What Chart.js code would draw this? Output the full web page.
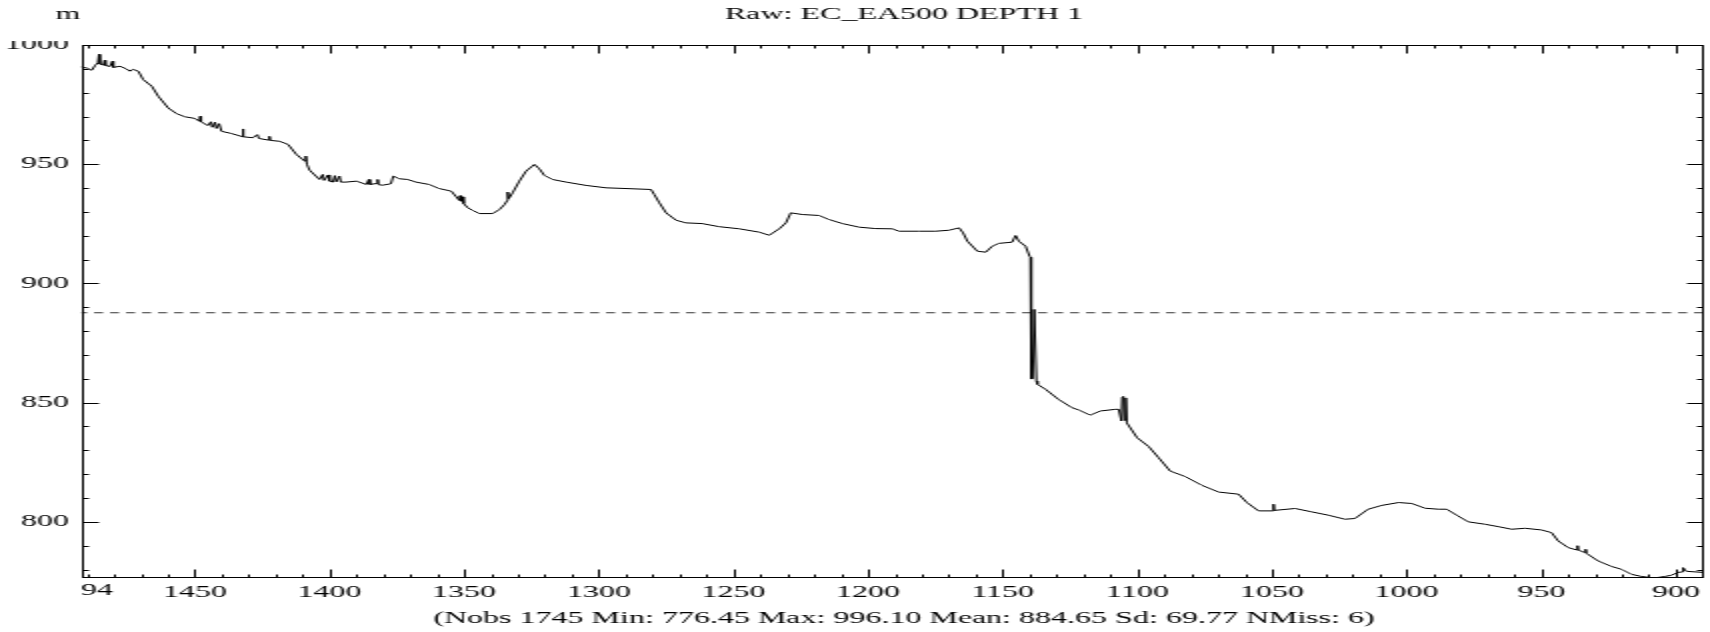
<!DOCTYPE html>
<html>
<head>
<meta charset="utf-8">
<script src="https://cdn.jsdelivr.net/npm/chart.js@4"></script>
<style>
  html, body { margin: 0; padding: 0; background: #fff; overflow: hidden; }
  /* the original plot is drawn narrow and stretched 2x sideways */
  #wrap { width: 855px; height: 632px; transform: scaleX(2); transform-origin: 0 0; }
</style>
</head>
<body>
<div id="wrap"><canvas id="chart"></canvas></div>
<script>
const titleText = 'Raw: EC_EA500 DEPTH 1';
const unitText = 'm';
const startLabel = '94';
const statsText = '(Nobs 1745 Min: 776.45 Max: 996.10 Mean: 884.65 Sd: 69.77 NMiss: 6)';

const xMin = 889.9;
const xMax = 1492.3;
const yMin = 776.45;
const yMax = 1000;
const xTickValues = [1450, 1400, 1350, 1300, 1250, 1200, 1150, 1100, 1050, 1000, 950, 900];
const yTickValues = [800, 850, 900, 950, 1000];
const minorStep = 10;
const refLineValue = 887.7;

// readings along the track (x) and depth values (y)
const xPos = [
  1492.3,1490.0,1488.3,1487.0,1486.0,1485.6,1485.3,1484.0,1483.5,1483.2,
  1481.5,1480.6,1480.3,1477.8,1475.5,1474.1,1473.0,1471.0,1469.2,1466.0,
  1463.6,1459.9,1456.8,1453.7,1450.0,1448.3,1448.0,1447.7,1445.2,1444.0,
  1443.5,1442.5,1442.0,1441.0,1440.1,1436.5,1432.5,1432.2,1431.9,1428.5,
  1426.8,1426.2,1422.6,1422.3,1422.0,1418.5,1415.4,1412.3,1409.2,1408.8,
  1408.4,1407.4,1403.7,1402.5,1402.0,1400.5,1400.0,1398.8,1398.0,1397.5,
  1396.3,1395.8,1393.9,1390.0,1386.3,1385.4,1385.0,1382.6,1382.1,1381.8,
  1380.3,1377.2,1376.3,1374.1,1371.0,1367.9,1363.0,1359.3,1354.8,1352.9,
  1351.8,1351.5,1351.1,1350.6,1350.2,1348.6,1346.8,1344.3,1339.4,1336.9,
  1335.0,1334.0,1333.8,1333.4,1332.0,1329.5,1327.0,1323.9,1322.1,1320.2,
  1317.2,1312.1,1304.7,1297.3,1289.9,1280.6,1279.4,1277.5,1275.0,1271.3,
  1267.7,1261.6,1255.3,1247.8,1240.4,1236.7,1233.0,1230.5,1228.7,1224.4,
  1218.2,1214.5,1209.5,1203.3,1197.2,1191.0,1188.5,1181.1,1174.9,1170.0,
  1166.2,1164.7,1163.1,1159.4,1156.3,1153.9,1151.4,1146.5,1145.2,1144.0,
  1141.5,1140.0,1139.7,1139.4,1138.9,1138.3,1137.5,1137.1,1134.1,1129.3,
  1124.3,1121.7,1118.2,1117.4,1113.7,1108.1,1106.9,1105.9,1105.6,1105.2,
  1104.8,1104.3,1103.9,1100.1,1095.8,1092.1,1087.8,1082.2,1076.0,1069.8,
  1062.4,1059.3,1055.0,1049.6,1049.4,1049.2,1041.4,1035.3,1029.1,1022.9,
  1019.2,1014.3,1009.2,1003.0,998.1,993.1,988.2,985.1,981.4,977.1,
  970.9,966.0,961.0,956.0,949.9,946.2,943.7,940.0,936.8,936.5,
  936.3,933.8,933.5,933.2,928.9,923.9,920.2,916.5,912.8,908.0,
  904.1,901.7,899.2,897.5,897.3,896.5,895.5,889.9
];
const depth = [
  990.8,990.3,989.4,991.5,992.5,996.1,992.0,991.6,993.6,991.4,
  991.0,993.2,990.6,991.1,990.0,989.0,989.8,989.0,985.5,982.7,
  978.5,973.6,971.2,969.9,969.2,968.0,970.1,967.8,966.2,967.8,
  965.5,967.6,965.0,967.0,963.8,962.9,961.6,964.8,961.5,961.1,
  962.4,960.8,960.1,961.7,960.0,959.6,958.3,954.1,951.3,953.4,
  950.0,947.5,943.6,945.7,943.2,945.5,942.9,942.5,945.2,942.6,
  945.0,942.5,942.5,942.9,941.5,943.6,941.5,941.9,943.6,941.4,
  941.2,941.8,945.0,943.9,943.6,942.5,941.5,939.8,938.7,936.3,
  934.8,936.8,934.5,936.3,933.5,931.7,930.6,929.3,929.3,931.0,
  933.1,934.8,938.3,935.6,938.0,942.9,947.1,949.9,948.1,945.3,
  943.6,942.5,941.1,940.1,939.8,939.4,937.3,933.8,929.6,926.5,
  925.4,925.1,923.8,922.9,921.5,920.2,922.9,925.4,929.6,928.9,
  928.5,926.8,925.1,923.6,923.0,922.9,921.9,921.9,921.9,922.3,
  923.3,921.2,917.7,913.5,913.1,915.6,916.8,917.3,920.1,917.7,
  915.6,911.4,911.0,860.0,860.0,889.1,859.1,857.7,855.6,851.4,
  847.9,846.9,845.1,844.8,846.5,847.2,847.2,842.3,852.3,852.6,
  842.6,852.0,841.5,835.3,831.6,826.9,821.3,819.0,815.3,812.5,
  811.6,808.1,804.6,804.6,807.4,804.8,805.6,804.2,802.8,801.1,
  801.4,805.3,806.9,808.1,807.7,805.7,805.3,805.3,802.8,800.0,
  799.0,798.0,796.9,797.3,796.6,795.5,792.0,789.2,788.2,790.0,
  788.2,787.1,788.5,786.8,783.6,781.3,780.1,778.0,777.1,776.45,
  777.1,777.6,778.8,779.0,780.8,779.5,779.2,778.8
];

const serif = '"Liberation Serif", "DejaVu Serif", serif';

// box round the plot, inward ticks on all four sides, plus the texts
const framePlugin = {
  id: 'framePlugin',
  afterDraw(chart) {
    const { ctx, chartArea: a, scales: { x, y } } = chart;
    const L = Math.round(a.left) + 0.5, R = Math.round(a.right) - 0.5;
    const T = Math.round(a.top) + 0.5, B = Math.round(a.bottom) - 0.5;
    ctx.save();
    ctx.strokeStyle = '#000';
    ctx.lineWidth = 1;
    ctx.strokeRect(L, T, R - L, B - T);
    ctx.beginPath();
    for (let v = Math.ceil(xMin / minorStep) * minorStep; v <= xMax; v += minorStep) {
      const px = Math.round(x.getPixelForValue(v)) + 0.5;
      const len = v % 50 === 0 ? 8 : 3;
      ctx.moveTo(px, B); ctx.lineTo(px, B - len);
      ctx.moveTo(px, T); ctx.lineTo(px, T + len);
    }
    for (let v = Math.ceil(yMin / minorStep) * minorStep; v <= yMax; v += minorStep) {
      const py = Math.round(y.getPixelForValue(v)) + 0.5;
      const len = v % 50 === 0 ? 8 : 3;
      ctx.moveTo(L, py); ctx.lineTo(L + len, py);
      ctx.moveTo(R, py); ctx.lineTo(R - len, py);
    }
    ctx.stroke();

    // the top label is cut off in the original
    ctx.fillStyle = '#fff';
    ctx.fillRect(0, 28, a.left - 1, 13);

    ctx.fillStyle = '#000';
    ctx.font = '16px ' + serif;
    ctx.textBaseline = 'alphabetic';
    ctx.textAlign = 'center';
    ctx.fillText(unitText, 34, 19);
    ctx.fillText(titleText, 452, 19);
    ctx.fillText(statsText, 452, 623);
    ctx.textAlign = 'left';
    ctx.textBaseline = 'top';
    ctx.fillText(startLabel, a.left, a.bottom + 5);
    ctx.restore();
  }
};

new Chart(document.getElementById('chart'), {
  type: 'line',
  data: {
    datasets: [
      {
        data: xPos.map((v, i) => ({ x: v, y: depth[i] })),
        borderColor: '#000',
        borderWidth: 1,
        pointRadius: 0,
        tension: 0
      },
      {
        data: [{ x: xMin, y: refLineValue }, { x: xMax, y: refLineValue }],
        borderColor: '#333',
        borderWidth: 1,
        borderDash: [4.5, 3.5],
        pointRadius: 0
      }
    ]
  },
  options: {
    animation: false,
    responsive: true,
    maintainAspectRatio: false,
    devicePixelRatio: 1,
    layout: { padding: { left: 0, right: 2.5, top: 45, bottom: 24 } },
    plugins: {
      legend: { display: false },
      tooltip: { enabled: false },
      title: { display: false }
    },
    scales: {
      x: {
        type: 'linear',
        reverse: true,
        min: xMin,
        max: xMax,
        grid: { display: false, drawTicks: false },
        border: { display: false },
        afterBuildTicks: s => { s.ticks = xTickValues.map(v => ({ value: v })); },
        afterFit: s => { s.height = 30; },
        ticks: {
          autoSkip: false,
          maxRotation: 0,
          padding: 5,
          color: '#000',
          font: { family: serif, size: 16 },
          callback: v => String(v)
        }
      },
      y: {
        min: yMin,
        max: yMax,
        grid: { display: false, drawTicks: false },
        border: { display: false },
        afterBuildTicks: s => { s.ticks = yTickValues.map(v => ({ value: v })); },
        afterFit: s => { s.width = 40.5; },
        ticks: {
          padding: 6,
          color: '#000',
          font: { family: serif, size: 16 },
          callback: v => String(v)
        }
      }
    }
  },
  plugins: [framePlugin]
});
</script>
</body>
</html>
